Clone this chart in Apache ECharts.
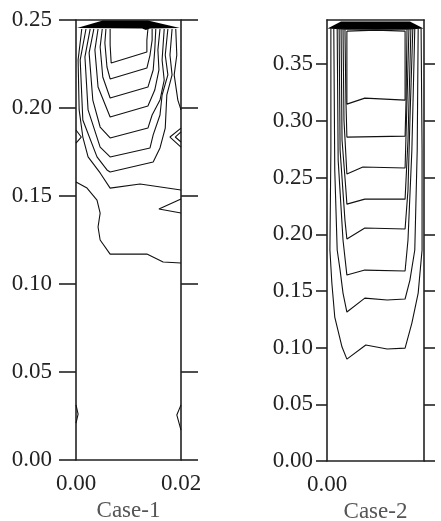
<!DOCTYPE html>
<html>
<head>
<meta charset="utf-8">
<script src="https://cdn.jsdelivr.net/npm/echarts@6/dist/echarts.min.js"></script>
<style>
  html, body {margin: 0; padding: 0; background: #fff;}
  #chart {width: 441px; height: 521px;}
</style>
</head>
<body>
<div id="chart"></div>
<script>
// tick values
const case1YTicks = [0, 0.05, 0.10, 0.15, 0.20, 0.25];
const case1XTicks = [0, 0.02];
const case2YTicks = [0, 0.05, 0.10, 0.15, 0.20, 0.25, 0.30, 0.35];
const case2XTicks = [0];
const case1XMax = 0.02, case1YMax = 0.25;
const case2XMax = 0.02, case2YMax = 0.389;

// dense band of contours at the lid (filled)
const case1Cap = [[0.0002, 0.2455], [0.0051, 0.2497], [0.0137, 0.2497], [0.0198, 0.2455],
    [0.0141, 0.2452], [0.0133, 0.2443], [0.0126, 0.2452]];
const case2Cap = [[0.0001, 0.3814], [0.0029, 0.3876], [0.0171, 0.3876], [0.0199, 0.3814],
    [0.0161, 0.3805], [0.0041, 0.3805]];

// Case-1 contour lines (x, y)
const case1Lines = [
    [[0.0065, 0.2449], [0.0065, 0.2358], [0.0067, 0.2256], [0.0135, 0.2318], [0.0135, 0.2386], [0.0137, 0.2449]],
    [[0.0057, 0.2449], [0.0055, 0.2369], [0.0059, 0.2233], [0.0065, 0.2165], [0.0135, 0.2227], [0.0141, 0.2301], [0.0145, 0.2386], [0.0145, 0.2449]],
    [[0.0050, 0.2449], [0.0046, 0.2347], [0.0051, 0.2176], [0.0065, 0.2057], [0.0137, 0.2119], [0.0147, 0.2216], [0.0150, 0.2330], [0.0152, 0.2449]],
    [[0.0042, 0.2449], [0.0036, 0.2330], [0.0042, 0.2119], [0.0065, 0.1949], [0.0137, 0.2011], [0.0150, 0.2102], [0.0158, 0.2216], [0.0156, 0.2330], [0.0160, 0.2449]],
    [[0.0034, 0.2449], [0.0025, 0.2313], [0.0032, 0.2045], [0.0046, 0.1892], [0.0065, 0.1830], [0.0137, 0.1886], [0.0145, 0.1960], [0.0160, 0.2045], [0.0168, 0.2159], [0.0164, 0.2273], [0.0168, 0.2449]],
    [[0.0027, 0.2449], [0.0017, 0.2290], [0.0023, 0.1989], [0.0046, 0.1778], [0.0065, 0.1722], [0.0141, 0.1773], [0.0147, 0.1847], [0.0160, 0.1960], [0.0164, 0.2074], [0.0175, 0.2188], [0.0170, 0.2301], [0.0175, 0.2449]],
    [[0.0019, 0.2449], [0.0008, 0.2273], [0.0013, 0.1932], [0.0040, 0.1722], [0.0059, 0.1648], [0.0065, 0.1636], [0.0147, 0.1693], [0.0160, 0.1773], [0.0170, 0.1886], [0.0173, 0.2074], [0.0183, 0.2188], [0.0179, 0.2301], [0.0183, 0.2449]],
    [[0.0011, 0.2449], [0.0004, 0.2273], [0.0006, 0.1989], [0.0013, 0.1835], [0.0023, 0.1722], [0.0046, 0.1631], [0.0065, 0.1545], [0.0122, 0.1568], [0.0200, 0.1534]],
    [[0.0190, 0.2449], [0.0192, 0.2301], [0.0187, 0.2188], [0.0194, 0.2045], [0.0200, 0.1989]],
    [[0.0000, 0.1580], [0.0021, 0.1545], [0.0040, 0.1477], [0.0046, 0.1403], [0.0042, 0.1324], [0.0046, 0.1250], [0.0065, 0.1170], [0.0135, 0.1170], [0.0166, 0.1125], [0.0200, 0.1119]],
    [[0.0200, 0.1483], [0.0158, 0.1426], [0.0200, 0.1403]],
    [[0.0000, 0.1875], [0.0010, 0.1835], [0.0000, 0.1801]],
    [[0.0200, 0.1886], [0.0179, 0.1835], [0.0200, 0.1778]],
    [[0.0200, 0.1864], [0.0189, 0.1835], [0.0200, 0.1807]],
    [[0.0000, 0.0313], [0.0004, 0.0261], [0.0000, 0.0210]],
    [[0.0200, 0.0313], [0.0192, 0.0256], [0.0200, 0.0170]]
];

// Case-2 contour lines (x, y)
const case2Lines = [
    [[0.0041, 0.3792], [0.0041, 0.3148], [0.0078, 0.3201], [0.0161, 0.3183], [0.0161, 0.3792], [0.0101, 0.3801], [0.0041, 0.3792]],
    [[0.0037, 0.3818], [0.0039, 0.3183], [0.0041, 0.2857], [0.0161, 0.2866], [0.0163, 0.3183], [0.0165, 0.3818]],
    [[0.0033, 0.3818], [0.0035, 0.3007], [0.0041, 0.2531], [0.0074, 0.2593], [0.0161, 0.2584], [0.0165, 0.3183], [0.0169, 0.3818]],
    [[0.0029, 0.3818], [0.0031, 0.2831], [0.0039, 0.2390], [0.0041, 0.2266], [0.0078, 0.2310], [0.0161, 0.2310], [0.0167, 0.2831], [0.0173, 0.3818]],
    [[0.0025, 0.3818], [0.0027, 0.2743], [0.0037, 0.2125], [0.0041, 0.1958], [0.0078, 0.2055], [0.0161, 0.2046], [0.0167, 0.2390], [0.0171, 0.3007], [0.0177, 0.3818]],
    [[0.0021, 0.3818], [0.0023, 0.2654], [0.0033, 0.1949], [0.0041, 0.1640], [0.0078, 0.1684], [0.0161, 0.1676], [0.0167, 0.1949], [0.0175, 0.2743], [0.0181, 0.3818]],
    [[0.0014, 0.3818], [0.0016, 0.2566], [0.0021, 0.1861], [0.0027, 0.1684], [0.0033, 0.1481], [0.0041, 0.1314], [0.0078, 0.1437], [0.0124, 0.1420], [0.0161, 0.1429], [0.0171, 0.1596], [0.0181, 0.1861], [0.0186, 0.2743], [0.0188, 0.3818]],
    [[0.0008, 0.3818], [0.0008, 0.2743], [0.0006, 0.1861], [0.0010, 0.1570], [0.0016, 0.1270], [0.0031, 0.1005], [0.0041, 0.0899], [0.0080, 0.1023], [0.0124, 0.0988], [0.0161, 0.0996], [0.0175, 0.1217], [0.0188, 0.1481], [0.0196, 0.1861], [0.0196, 0.2743], [0.0194, 0.3818]]
];

const FONT = 'Liberation Serif';
const INK = '#222';
const fmt = v => v.toFixed(2);

const chart = echarts.init(document.getElementById('chart'), null, {renderer: 'canvas'});

function frameAxes(gi, xMax, yMax, xTicks, yTicks, tickLen, labelMargin, name) {
    const line = {show: true, onZero: false, lineStyle: {color: INK, width: 1.6}};
    const xAxes = [
        {
            gridIndex: gi, type: 'value', min: 0, max: xMax, position: 'bottom',
            axisLine: line, axisTick: {show: false}, splitLine: {show: false},
            axisLabel: {customValues: xTicks, formatter: fmt, margin: 12, color: INK, fontFamily: FONT, fontSize: 23},
            name: name, nameLocation: 'middle', nameGap: 38,
            nameTextStyle: {color: '#555', fontFamily: FONT, fontSize: 23}
        },
        {
            gridIndex: gi, type: 'value', min: 0, max: xMax, position: 'top',
            axisLine: line, axisTick: {show: false}, axisLabel: {show: false}, splitLine: {show: false}
        }
    ];
    const tick = {show: true, customValues: yTicks, length: tickLen, lineStyle: {color: INK, width: 1.6}};
    const yAxes = [
        {
            gridIndex: gi, type: 'value', min: 0, max: yMax, position: 'left',
            axisLine: line, axisTick: tick, splitLine: {show: false},
            axisLabel: {customValues: yTicks, formatter: fmt, margin: labelMargin, color: INK, fontFamily: FONT, fontSize: 23}
        },
        {
            gridIndex: gi, type: 'value', min: 0, max: yMax, position: 'right',
            axisLine: line, axisTick: tick, axisLabel: {show: false}, splitLine: {show: false}
        }
    ];
    return {xAxes, yAxes};
}

const f1 = frameAxes(0, case1XMax, case1YMax, case1XTicks, case1YTicks, 17, 24, 'Case-1');
const f2 = frameAxes(1, case2XMax, case2YMax, case2XTicks, case2YTicks, 11, 14, 'Case-2');

function contourSeries(lines, axisIdx) {
    return lines.map(pts => ({
        type: 'line', xAxisIndex: axisIdx, yAxisIndex: axisIdx, data: pts,
        symbol: 'none', showSymbol: false, silent: true, animation: false,
        lineStyle: {color: '#111', width: 1.1}
    }));
}

function capSeries(poly, axisIdx) {
    return {
        type: 'custom', xAxisIndex: axisIdx, yAxisIndex: axisIdx, data: poly, silent: true, animation: false,
        renderItem: (params, api) => {
            if (params.dataIndex !== 0) return;
            return {type: 'polygon', shape: {points: poly.map(p => api.coord(p))}, style: {fill: '#000'}};
        }
    };
}

const option = {
    backgroundColor: '#fff',
    animation: false,
    grid: [
        {left: 76, top: 20, width: 105, height: 440, containLabel: false, outerBoundsMode: 'none'},
        {left: 327, top: 20, width: 97, height: 441, containLabel: false, outerBoundsMode: 'none'}
    ],
    xAxis: [...f1.xAxes, ...f2.xAxes],
    yAxis: [...f1.yAxes, ...f2.yAxes],
    series: [
        ...contourSeries(case1Lines, 0),
        capSeries(case1Cap, 0),
        ...contourSeries(case2Lines, 2),
        capSeries(case2Cap, 2)
    ]
};

chart.setOption(option);
</script>
</body>
</html>
